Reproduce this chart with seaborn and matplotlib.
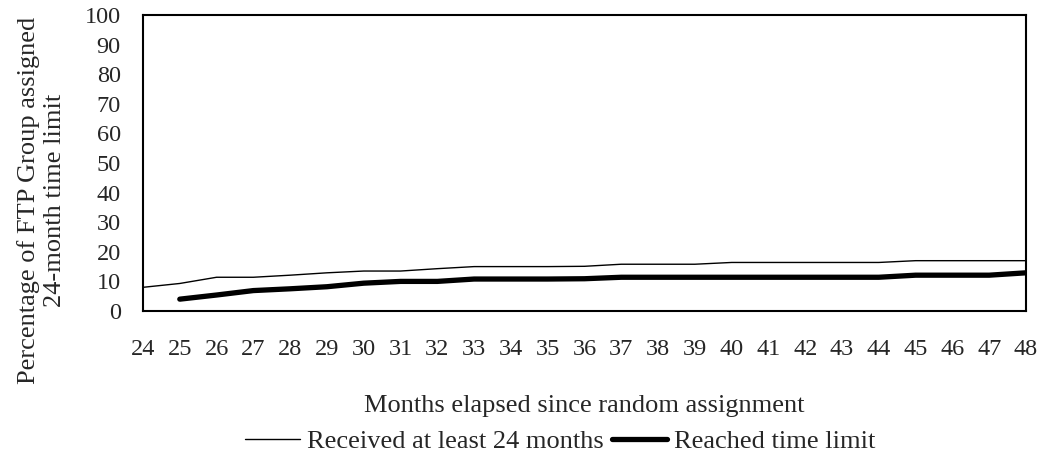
import numpy as np
import pandas as pd
import matplotlib
matplotlib.use("Agg")
import matplotlib.pyplot as plt
import seaborn as sns

months = list(range(24, 49))
received = [8.0, 9.3, 11.4, 11.4, 12.1, 12.9, 13.5, 13.5, 14.3, 15.0, 15.0, 15.0, 15.1,
            15.8, 15.8, 15.8, 16.4, 16.4, 16.4, 16.4, 16.4, 17.0, 17.0, 17.0, 17.0]
reached_months = list(range(25, 49))
reached = [4.0, 5.4, 6.9, 7.5, 8.2, 9.4, 10.0, 10.0, 10.8, 10.8, 10.8, 10.9,
           11.4, 11.4, 11.4, 11.4, 11.4, 11.4, 11.4, 11.4, 12.1, 12.1, 12.1, 12.9]

df_rec = pd.DataFrame({"month": months, "pct": received})
df_lim = pd.DataFrame({"month": reached_months, "pct": reached})

sns.set_style("white")
plt.rcParams['font.family'] = ['Liberation Serif', 'DejaVu Serif']
tick_fs = 17.5
lab_fs = 19

fig = plt.figure(figsize=(10.45, 4.57), dpi=100)
ax = fig.add_axes([143 / 1045, 1 - 311 / 457, 883 / 1045, 296 / 457])

sns.lineplot(data=df_rec, x="month", y="pct", ax=ax, color="black", linewidth=1.0,
             label="Received at least 24 months")
sns.lineplot(data=df_lim, x="month", y="pct", ax=ax, color="black", linewidth=3.8,
             label="Reached time limit")

ax.set_xlim(24, 48)
ax.set_ylim(0, 100)
ax.set_xticks(months)
ax.set_yticks(range(0, 101, 10))
ax.tick_params(axis="x", direction="inout", length=15, width=1.5, pad=13, labelsize=tick_fs)
ax.tick_params(axis="y", direction="out", length=7, width=1.5, pad=9, labelsize=tick_fs)
for s in ax.spines.values():
    s.set_linewidth(1.5)
    s.set_color("black")

ax.set_xlabel("Months elapsed since random assignment", fontsize=lab_fs)
ax.xaxis.set_label_coords(0.5, -0.283)
ax.set_ylabel("Percentage of FTP Group assigned\n24-month time limit", fontsize=lab_fs,
              linespacing=1.2)
ax.yaxis.set_label_coords(-0.0875, 0.375)

ax.legend(loc="center", bbox_to_anchor=(560 / 1045, 1 - 441 / 457),
          bbox_transform=fig.transFigure, ncol=2, frameon=False, fontsize=lab_fs,
          handlelength=2.1, handletextpad=0.25, columnspacing=0.3,
          borderpad=0, borderaxespad=0)

fig.savefig("out.png", dpi=100)
